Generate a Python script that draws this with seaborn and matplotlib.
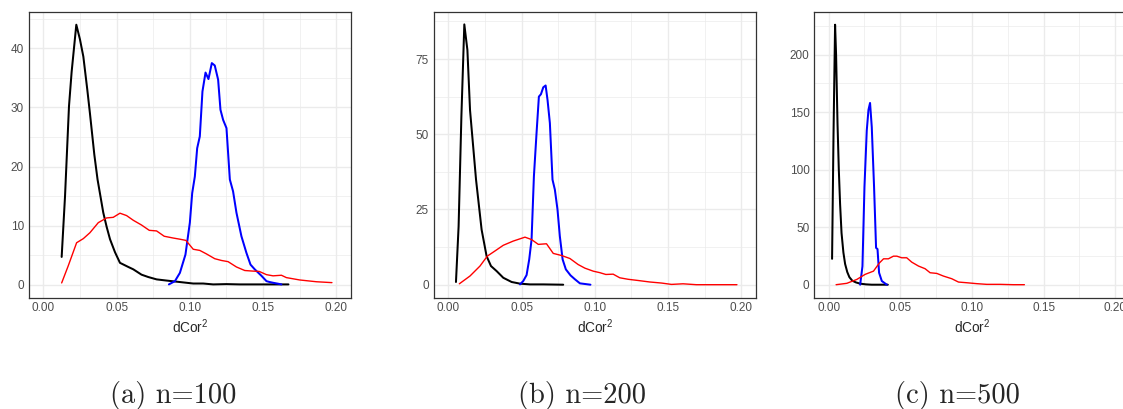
import numpy as np
import pandas as pd
import matplotlib
matplotlib.use("Agg")
import matplotlib.pyplot as plt
import seaborn as sns

# ---- data (dCor^2 vs density) ----
# panel (a) n=100
a_black_x = [0.0125, 0.0148, 0.0175, 0.0193, 0.0225, 0.0250, 0.0273, 0.0300, 0.0318, 0.0348, 0.0370,
             0.0409, 0.0432, 0.0455, 0.0489, 0.0523, 0.0580, 0.0614, 0.0670, 0.0716, 0.0773, 0.0841,
             0.0932, 0.1023, 0.1091, 0.1159, 0.1250, 0.1341, 0.1477, 0.1673]
a_black_y = [4.7, 15, 30.2, 36, 44.0, 41.5, 38.6, 33, 29, 22, 17.8,
             12.2, 9.8, 7.7, 5.5, 3.7, 3.0, 2.6, 1.7, 1.3, 0.9, 0.7,
             0.45, 0.2, 0.2, 0.05, 0.1, 0.05, 0.05, 0.05]
a_red_x = [0.0125, 0.0170, 0.0227, 0.0273, 0.0318, 0.0375, 0.0432, 0.0477, 0.0523, 0.0568, 0.0614,
           0.0670, 0.0723, 0.0773, 0.0825, 0.0886, 0.0932, 0.0973, 0.1023, 0.1068, 0.1114, 0.1170,
           0.1216, 0.1261, 0.1318, 0.1375, 0.1432, 0.1473, 0.1523, 0.1568, 0.1625, 0.1659, 0.1750,
           0.1864, 0.1970]
a_red_y = [0.3, 3.2, 7.1, 7.8, 8.8, 10.5, 11.3, 11.4, 12.1, 11.7, 10.9,
           10.1, 9.2, 9.1, 8.2, 7.9, 7.7, 7.5, 6.0, 5.8, 5.2, 4.4,
           4.1, 3.9, 3.0, 2.4, 2.3, 2.25, 1.7, 1.5, 1.6, 1.2, 0.8,
           0.5, 0.35]
a_blue_x = [0.0857, 0.0898, 0.0932, 0.0970, 0.1000, 0.1016, 0.1034, 0.1050, 0.1068, 0.1086, 0.1107,
            0.1127, 0.1150, 0.1170, 0.1193, 0.1209, 0.1227, 0.1250, 0.1273, 0.1295, 0.1318, 0.1352,
            0.1386, 0.1414, 0.1443, 0.1489, 0.1523, 0.1545, 0.1573, 0.1602, 0.1625]
a_blue_y = [0.05, 0.6, 2.0, 5.1, 10.5, 15.5, 18.3, 23.1, 25.1, 32.7, 35.9,
            34.8, 37.5, 37.1, 34.7, 29.6, 27.9, 26.5, 17.8, 15.8, 12.2, 8.2,
            5.4, 3.4, 2.6, 1.5, 0.6, 0.45, 0.3, 0.17, 0.05]

# panel (b) n=200
b_black_x = [0.0052, 0.0070, 0.0089, 0.0109, 0.0130, 0.0148, 0.0189, 0.0227, 0.0261, 0.0291, 0.0330,
             0.0375, 0.0432, 0.0489, 0.0557, 0.0648, 0.0784]
b_black_y = [0.9, 19.4, 55.9, 86.5, 78, 58, 34.9, 18.3, 9.5, 6.2, 4.5,
             2.3, 0.9, 0.35, 0.1, 0.1, 0.0]
b_red_x = [0.0075, 0.0148, 0.0216, 0.0266, 0.0318, 0.0375, 0.0443, 0.0523, 0.0568, 0.0614, 0.0670,
           0.0716, 0.0773, 0.0830, 0.0886, 0.0932, 0.0989, 0.1034, 0.1075, 0.1125, 0.1170, 0.1227,
           0.1295, 0.1375, 0.1455, 0.1523, 0.1602, 0.1693, 0.1807, 0.1970]
b_red_y = [0.3, 2.9, 6.2, 9.5, 11.2, 13.1, 14.5, 15.8, 15.0, 13.4, 13.6,
           10.4, 9.7, 8.7, 6.7, 5.5, 4.5, 4.0, 3.4, 3.5, 2.3, 1.8,
           1.4, 0.9, 0.55, 0.1, 0.3, 0.0, 0.0, 0.0]
b_blue_x = [0.0489, 0.0511, 0.0534, 0.0552, 0.0568, 0.0584, 0.0602, 0.0618, 0.0632, 0.0648, 0.0664,
            0.0677, 0.0693, 0.0711, 0.0727, 0.0745, 0.0761, 0.0780, 0.0802, 0.0834, 0.0864, 0.0898,
            0.0970]
b_blue_y = [0.1, 1.2, 3.2, 8.4, 15.0, 36, 50.4, 62.5, 63.3, 65.6, 66.2,
            61.4, 53.7, 34.9, 31.6, 25, 16.1, 8.4, 5.1, 3.1, 1.8, 0.45,
            0.0]

# panel (c) n=500
c_black_x = [0.0024, 0.0034, 0.0045, 0.0052, 0.0062, 0.0071, 0.0080, 0.0090, 0.0103, 0.0115, 0.0130,
             0.0145, 0.0165, 0.0190, 0.0220, 0.0260, 0.0300, 0.0350, 0.0413]
c_black_y = [22.5, 130, 226, 200, 140, 100, 70, 45, 28, 18, 11,
             6.5, 3.5, 2.0, 0.9, 0.3, 0.0, 0.0, 0.0]
c_red_x = [0.0052, 0.0127, 0.0197, 0.0255, 0.0313, 0.0355, 0.0383, 0.0417, 0.0452, 0.0476, 0.0510,
           0.0545, 0.0580, 0.0627, 0.0673, 0.0708, 0.0755, 0.0801, 0.0859, 0.0906, 0.0964, 0.1034,
           0.1103, 0.1196, 0.1289, 0.1366]
c_red_y = [0.0, 1.2, 4.6, 9.0, 11.8, 19.0, 22.5, 22.5, 24.8, 24.8, 23.4,
           23.4, 19.6, 16.2, 13.9, 10.4, 9.8, 7.5, 5.2, 2.3, 1.7, 0.9,
           0.3, 0.3, 0.0, 0.0]
c_blue_x = [0.0220, 0.0236, 0.0250, 0.0266, 0.0278, 0.0289, 0.0301, 0.0317, 0.0331, 0.0341, 0.0352,
            0.0371, 0.0406]
c_blue_y = [0.0, 16, 85, 134, 152, 158, 137, 85, 32, 31, 10.4,
            3.2, 0.0]

captions = ["(a) n=100", "(b) n=200", "(c) n=500"]
y_ticks = [[0, 10, 20, 30, 40], [0, 25, 50, 75], [0, 50, 100, 150, 200]]
y_max = [44.0, 86.4, 226.0]

panels = [
    [(a_black_x, a_black_y, "black"), (a_blue_x, a_blue_y, "blue"), (a_red_x, a_red_y, "red")],
    [(b_black_x, b_black_y, "black"), (b_blue_x, b_blue_y, "blue"), (b_red_x, b_red_y, "red")],
    [(c_black_x, c_black_y, "black"), (c_blue_x, c_blue_y, "blue"), (c_red_x, c_red_y, "red")],
]

sns.set_style("white")
plt.rcParams['font.family'] = ['Liberation Sans', 'DejaVu Sans']
plt.rcParams['mathtext.fontset'] = 'custom'
plt.rcParams['mathtext.rm'] = 'Liberation Sans'
plt.rcParams['mathtext.it'] = 'Liberation Sans'
plt.rcParams['mathtext.default'] = 'regular'

W, H = 1123, 409
fig = plt.figure(figsize=(W / 100, H / 100), dpi=100)

# axes boxes in pixels: left, right (top 11.7, bottom 297.7)
boxes = [(28.7, 351.0), (433.7, 756.0), (814.3, 1129.6)]
cap_x = [173.5, 581.5, 957.0]
top, bottom = 11.7, 297.7

for i, (l, r) in enumerate(boxes):
    ax = fig.add_axes([l / W, (H - bottom) / H, (r - l) / W, (bottom - top) / H])
    for xs, ys, col in panels[i]:
        df = pd.DataFrame({"x": xs, "y": ys})
        sns.lineplot(data=df, x="x", y="y", ax=ax, color=col, sort=False, estimator=None,
                     linewidth=1.0 if col == "red" else 1.45, zorder=3)
    ax.set_xlim(-0.01, 0.21)
    m = y_max[i]
    ax.set_ylim(-0.05 * m, 1.05 * m)
    ax.set_xticks([0, 0.05, 0.10, 0.15, 0.20])
    ax.set_xticklabels(["0.00", "0.05", "0.10", "0.15", "0.20"])
    yt = y_ticks[i]
    ax.set_yticks(yt)
    step = yt[1] - yt[0]
    ax.set_xticks(np.arange(0.025, 0.21, 0.05), minor=True)
    ax.set_yticks(np.arange(step / 2, 1.05 * m, step), minor=True)
    ax.grid(True, which="major", color="#EBEBEB", linewidth=1.0, zorder=0)
    ax.grid(True, which="minor", color="#EBEBEB", linewidth=0.5, zorder=0)
    ax.set_axisbelow(True)
    for s in ax.spines.values():
        s.set_color("#333333")
        s.set_linewidth(0.9)
    ax.tick_params(which="major", length=1.6, width=0.7, color="#333333",
                   labelsize=8.5, labelcolor="#4D4D4D", pad=1.8)
    ax.tick_params(which="minor", length=0)
    ax.set_xlabel("dCor$^2$", fontsize=9.8, labelpad=2.5)
    ax.set_ylabel("")
    fig.text(cap_x[i] / W, (H - 403.5) / H, captions[i], family="cmr10",
             fontsize=20.5, ha="center", va="baseline")

fig.savefig("out.png", dpi=100)
